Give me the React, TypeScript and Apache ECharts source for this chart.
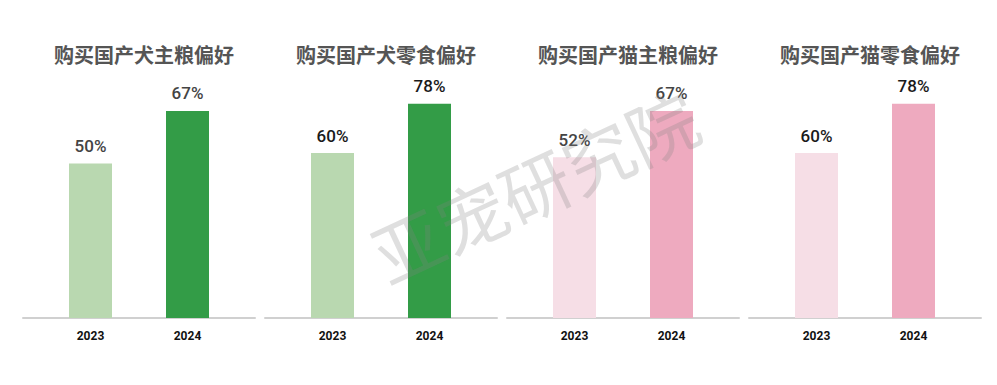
import React, { useEffect, useRef } from "react";
import * as echarts from "echarts";

const titles = ["购买国产犬主粮偏好", "购买国产犬零食偏好", "购买国产猫主粮偏好", "购买国产猫零食偏好"];
const years = ["2023", "2024"];
const values2023 = [50, 60, 52, 60];
const values2024 = [67, 78, 67, 78];
const yMax = [77, 86.6, 77, 86.6];
const lightColors = ["#b9d8b0", "#b9d8b0", "#f6dee6", "#f6dee6"];
const darkColors = ["#339c47", "#339c47", "#eeaabf", "#eeaabf"];
const labelColors = ["#444444", "#1a1a1a", "#444444", "#1a1a1a"];
const watermark = "亚宠研究院";

export default function App() {
  const ref = useRef<HTMLDivElement>(null);
  useEffect(() => {
    if (!ref.current) return;
    const chart = echarts.init(ref.current, null, { renderer: "svg" });
    const panelLeft0 = 23;
    const panelStep = 242;
    const panelW = 232;
    const gridTop = 80;
    const gridBottomY = 318;
    const off0 = 67.5;
    const off1 = 164.5;
    const unit = off1 - off0;
    const xMin = -off0 / unit;
    const xMax = 1 + (panelW - off1) / unit;

    const grid: any[] = [];
    const xAxis: any[] = [];
    const yAxis: any[] = [];
    const series: any[] = [];
    const title: any[] = [];

    titles.forEach((t, i) => {
      const left = panelLeft0 + panelStep * i;
      grid.push({ left, top: gridTop, width: panelW, height: gridBottomY - gridTop });
      xAxis.push({
        type: "value",
        gridIndex: i,
        min: xMin,
        max: xMax,
        axisLine: { show: true, lineStyle: { color: "#d0d0d0", width: 2 } },
        axisTick: { show: false },
        splitLine: { show: false },
        axisLabel: {
          show: true,
          customValues: [0, 1],
          formatter: (v: number) => years[Math.round(v)] ?? "",
          margin: 12,
          fontSize: 12,
          fontWeight: "bold",
          color: "#111111",
          fontFamily: "Roboto, Arial, sans-serif",
        },
      });
      yAxis.push({
        type: "value",
        gridIndex: i,
        min: 0,
        max: yMax[i],
        show: false,
        splitLine: { show: false },
      });
      series.push({
        type: "bar",
        xAxisIndex: i,
        yAxisIndex: i,
        barWidth: 43,
        data: [
          { value: [0, values2023[i]], itemStyle: { color: lightColors[i] } },
          { value: [1, values2024[i]], itemStyle: { color: darkColors[i] } },
        ],
        label: {
          show: true,
          position: "top",
          distance: 9,
          formatter: (p: any) => p.value[1] + "%",
          fontSize: 17,
          fontWeight: 500,
          color: labelColors[i],
          fontFamily: "Roboto, Arial, sans-serif",
        },
      });
      title.push({
        text: t,
        left: left + panelW / 2,
        top: 39,
        textAlign: "center",
        textStyle: {
          fontSize: 20,
          fontWeight: "bold",
          color: "#555555",
          fontFamily: "'Noto Sans CJK SC', sans-serif",
        },
      });
    });

    chart.setOption({
      animation: false,
      backgroundColor: "#ffffff",
      title,
      grid,
      xAxis,
      yAxis,
      series,
      graphic: [
        {
          type: "text",
          x: 534,
          y: 184,
          rotation: (25 * Math.PI) / 180,
          z: 100,
          silent: true,
          style: {
            text: watermark,
            fontSize: 70,
            fontFamily: "'Noto Sans CJK SC', sans-serif",
            fontWeight: "normal",
            fill: "rgba(130,130,130,0.26)",
            align: "center",
            verticalAlign: "middle",
          },
        },
      ],
    });
    return () => chart.dispose();
  }, []);
  return (
    <div
      ref={ref}
      style={{ position: "absolute", left: 0, top: 0, width: 997, height: 385 }}
    />
  );
}
